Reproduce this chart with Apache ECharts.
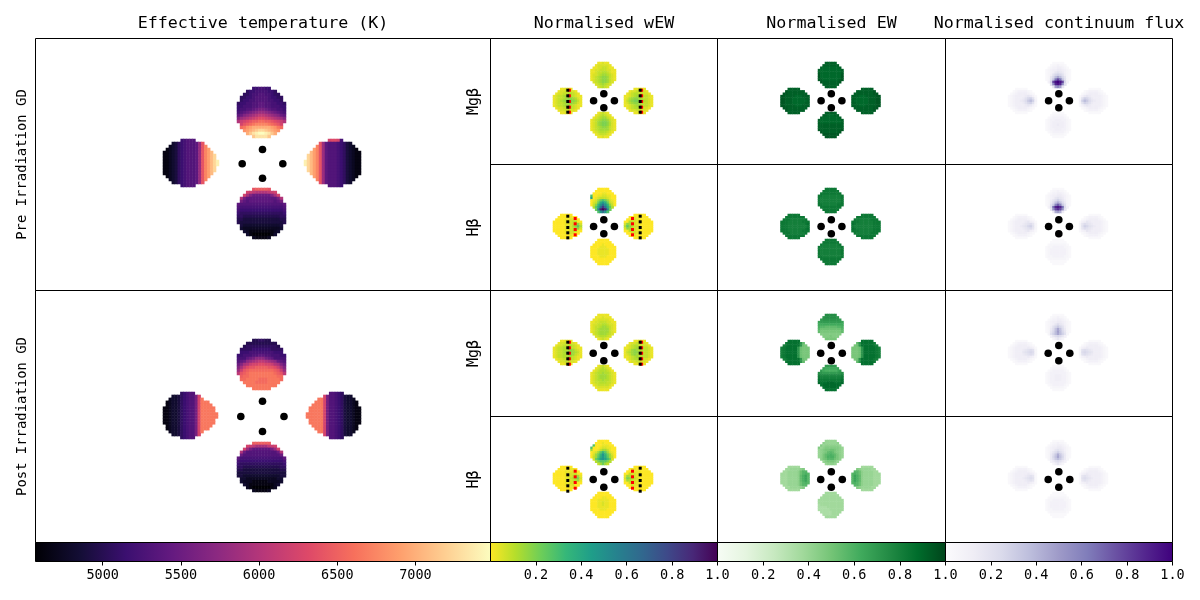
<!DOCTYPE html>
<html><head><meta charset="utf-8">
<style>html,body{margin:0;padding:0;background:#fff}#c{width:1200px;height:600px}</style>
<script src="https://cdn.jsdelivr.net/npm/echarts@6/dist/echarts.min.js"></script>
</head><body><div id="c"></div>
<script>
// Each lobe: rows of base-36 levels (0..z = 0..1 of the colour range), '.' = no data
const tempPreTop=[".....778877.....","...6778888776...","..667889988766..",".66778999987766.",".67788999988776.","6778899aa9988776","7788899aa9988877","78899abccba99887","89abcdeffedcba98","abdefghiihgfedba","dfghijkllkjihgfd","hjklmnnoonnmlkjh",".kmnopqqqqponmk.",".oprsttttttsrpo.","..rstuvwwvutsr..","...tvxyzzyxvt...",".....vxxxxv....."];
const tempPreLeft=["......78999........","...34678999afm.....","..234678999afmq....",".1234678999afmqs...","11234678999afmqsu..","11234678999afmqsuw.","11234678999afmqsuw.","11234678999afmqsuwy","11234678999afmqsuwy","11234678999afmqsuw.","11234678999afmqsuw.","11234678999afmqsu..",".1234678999afmqs...","..234678999afmq....","...34678999afm.....","......78999........"];
const tempPreRight=["........kllk8......",".....mfa99987643...","....qmfa999876432..","...sqmfa9998764321.","..usqmfa99987643211",".wusqmfa99987643211",".wusqmfa99987643211","ywusqmfa99987643211","ywusqmfa99987643211",".wusqmfa99987643211",".wusqmfa99987643211","..usqmfa99987643211","...sqmfa9998764321.","....qmfa999876432..",".....mfa99987643...","........99987......"];
const tempPreBottom=[".....mnnnnm.....","...kjihhhhijk...","..kgdbbbbbbdgk..",".hcaaaaaaaaaach.",".ca9aaaaaaaa9ac.","a99999999999999a","9888888888888889","8777777777777778","7666666666666667","6655555555555566","5544444444444455","5444444444444445",".43333333333334.",".32222222222223.","..321111111123..","...3100000013...",".....211112....."];
const tempPostTop=[".....556655.....","...5555555555...","..566666666665..",".66667777776666.",".77788888888777.","7788899aa9988877","888abceeecba8888","9abefghiihgfeba9","bdghjkkllkkjhgdb","dgjlmmnnnnmmljgd","fjmnoooooooonmjf","imnopppppppponmi",".noopppppppppoo.",".ooppppoooppppo.","..ppppoooopppp..","...pppppppppp...",".....pppppp....."];
const tempPostLeft=["......67899........","...33467899ck......","..233467899ckp.....",".1233467899ckppp...",".1233467899ckpppp..","11233467899ckppppp.","11233467899ckppppp.","11233467899ckpppppp","11233467899ckpppppp","11233467899ckppppp.","11233467899ckppppp.",".1233467899ckpppp..",".1233467899ckppp...","..233467899ckp.....","...33467899ck......","......67899........"];
const tempPostRight=["........99876......","......kc99876433...","....ppkc998764332..","...pppkc9987643321.","..ppppkc9987643321.",".pppppkc99876433211",".pppppkc99876433211","ppppppkc99876433211","ppppppkc99876433211",".pppppkc99876433211",".pppppkc99876433211","..ppppkc9987643321.","...pppkc9987643321.","....ppkc998764332..","......kc99876433...","........99876......"];
const tempPostBottom=[".....nnnnnn.....","...kjiggggijk...","..kfcaaaaaacfk..",".hb9999999999bh.",".b999999999999b.","a88888888888888a","8777777777777778","7666666666666667","6655555555555566","5544444444444455","4444444444444444","4433333333333344",".33222222222233.",".32221111122223.","..321111111123..","...2100000012...",".....211112....."];

const wewMgPreTop=["...11211...","..1222221..",".112233211.","11223332211","11233443211","12234554321","12345665321","12345665321",".234566532.","..2345432..","...23432..."];
const wewMgPreLeft=["...11211....","..12233221..",".1223344321.","123345543211","123345665421","123456776531","123345665421","123345543211",".1223344321.","..12233221..","...11211...."];
const wewMgPreRight=["....11211...","..12233221..",".1234433221.","112345543321","124566543321","135677654321","124566543321","112345543321",".1234433221.","..12233221..","....11211..."];
const wewMgPreBottom=["...12321...","..1234321..",".123455321.","12345665321","12356776421","12356776421","12345665321","12345555321",".123444321.","..1233321..","...11211..."];
const wewHbPreTop=["...00000...","..0000000..",".000011000.","a0011221100","f0123332100","01258a85210","0238dgd8320","036chmhc630",".49emtme94.","..8kwzwk8..","...ahmha..."];
const wewHbPreLeft=["...00000....","..00000100..",".0000112200.","000001123400","000001123562","000001224694","000001123562","000001123400",".0000112200.","..00000100..","...00000...."];
const wewHbPreRight=["....00000...","..00100000..",".0022110000.","004321100000","265321100000","496422100000","265321100000","004321100000",".0022110000.","..00100000..","....00000..."];
const wewHbPreBottom=["...00000...","..0000000..",".000010000.","00001110000","00011111000","00011111000","00011111000","00001110000",".000000000.","..0000000..","...00000..."];
const wewMgPostTop=["...11111...","..1112111..",".112222211.","11223332211","12233443221","12334554321","12345555321","12345555321",".234555432.","..2344432..","...12321..."];
const wewMgPostLeft=["...11211....","..12233221..",".1223344321.","123344543211","123344565321","123345665431","123344565321","123344543211",".1223344321.","..12233221..","...11211...."];
const wewMgPostRight=["....11211...","..12233221..",".1234433221.","112345443321","123565443321","134566543321","123565443321","112345443321",".1234433221.","..12233221..","....11211..."];
const wewMgPostBottom=["...12321...","..1234321..",".123444321.","12344544321","12345554321","12345554321","12344544321","12334443321",".123333321.","..1222221..","...11111..."];
const wewHbPostTop=["...00000...","..0001000..",".a00011100.","a0001221100","50013553100","01259c95210","0258chc8520","0359dgd9530",".28bfhfb82.","..4799974..","...35853..."];
const wewHbPostLeft=["...00000....","..00000110..",".0000111200.","000001122300","000001123451","000001234672","000001123451","000001122300",".0000111200.","..00000110..","...00000...."];
const wewHbPostRight=["....00000...","..01100000..",".0021110000.","003221100000","154321100000","276432100000","154321100000","003221100000",".0021110000.","..01100000..","....00000..."];
const wewHbPostBottom=["...00000...","..0000000..",".000011000.","00011111000","00011211000","00011211000","00011111000","00001110000",".000000000.","..0000000..","...00000..."];

const ewMgPreTop=["...wwwww...","..wwwwwww..",".wvvvvvvvw.","wvvvvvvvvvw","wvvvvvvvvvw","xvvvvvvvvvx","xvvvvvvvvvx","xwvvvvvvvwx",".xwwwwwwwx.","..wwwwwww..","...wwwww..."];
const ewMgPreLeft=["...wwwww....","..xwwwwwww..",".xxwwwwwwww.","xxwwwwvvvwww","xxwwwvvvvvww","xxwwwvvvvvvw","xxwwwvvvvvww","xxwwwwvvvwww",".xxwwwwwwww.","..xwwwwwww..","...wwwww...."];
const ewMgPreRight=["....wwwww...","..wwwwwwwx..",".wwwwwwwwxx.","wwwvvvwwwwxx","wwvvvvvwwwxx","wvvvvvvwwwxx","wwvvvvvwwwxx","wwwvvvwwwwxx",".wwwwwwwwxx.","..wwwwwwwx..","....wwwww..."];
const ewMgPreBottom=["...wwwww...","..wwvvvww..",".wvvvvvvvw.","wvvvvvvvvvw","wvvvvvvvvvw","wwwwwwwwwww","wwwwwwwwwww","xwwwwwwwwwx",".xwwwwwwwx.","..xxxxxxx..","...xxxxx..."];
const ewHbPreTop=["...ttttt...","..ttttttt..",".ttttttttt.","ttsssssssst","tssssssssst","tssssssssst","tssssssssst","ttssssssttt",".ttttttttt.","..ttttttt..","...ttttt..."];
const ewHbPreLeft=["...ttttt....","..tttttttt..",".tttsssssst.","tttssssssttt","tttssssssstu","tttsssssssst","tttssssssstu","tttssssssttt",".tttsssssst.","..tttttttt..","...ttttt...."];
const ewHbPreRight=["....ttttt...","..tttttttt..",".tssssssttt.","tttssssssttt","utsssssssttt","tssssssssttt","utsssssssttt","tttssssssttt",".tssssssttt.","..tttttttt..","....ttttt..."];
const ewHbPreBottom=["...ttttt...","..ttttttt..",".tssssssst.","tssssssssst","tssssssssst","tssssssssst","tssssssssst","ttsssssssst",".ttttttttt.","..ttttttt..","...ttttt..."];
const ewMgPostTop=["...qqqqq...","..pqqqqqp..",".opppppppo.","nooooooooon","mmmmmmmmmmm","lkkjjjjjkkl","kiiiiiiiiik","jhhhhhhhhhj",".ggggggggg.","..ggghggg..","...hhhhh..."];
const ewMgPostLeft=["...uuuuu....","..tuuuuupj..",".stuuuuupih.","stuuuuupihhh","stuuuuupihhh","stuuuuupihhh","stuuuuupihhh","stuuuuupihhh",".stuuuuupih.","..tuuuuupj..","...uuuuu...."];
const ewMgPostRight=["....uuuuu...","..jpuuuuut..",".hipuuuuuts.","hhhipuuuuuts","hhhipuuuuuts","hhhipuuuuuts","hhhipuuuuuts","hhhipuuuuuts",".hipuuuuuts.","..jpuuuuut..","....uuuuu..."];
const ewMgPostBottom=["...ooooo...","..nmmmmmn..",".omlllllmo.","qpooooooopq","srrrrrrrrrs","tssssssssst","utttttttttu","vuuuvvvuuuv",".uvvvvvvvu.","..uvvvvvu..","...uuuuu..."];
const ewHbPostTop=["...eeeee...","..feeeeef..",".geffffffe.","gefggggggfe","efghhiihgfe","efghjkjhgfe","efhjklkjhfe","efhjllljhfe",".fhikkkihf.","..eghhhge..","...efffe..."];
const ewHbPostLeft=["...ddddd....","..ddeeeefg..",".ddeeeefikk.","dddeeeefiklk","dddeeeefjlnk","dddeeeefjlnk","dddeeeefjlnk","dddeeeefiklk",".ddeeeefikk.","..ddeeeefg..","...ddddd...."];
const ewHbPostRight=["....ddddd...","..gfeeeedd..",".kkifeeeedd.","klkifeeeeddd","knljfeeeeddd","knljfeeeeddd","knljfeeeeddd","klkifeeeeddd",".kkifeeeedd.","..gfeeeedd..","....ddddd..."];
const ewHbPostBottom=["...ddddd...","..ddddddd..",".ddddddddd.","ddddddddddd","ddddddddddd","cdddddddddd","ccccddddddd","cccccdddddd",".cccccdddd.","..ccccddd..","...ddddd..."];

const fluxMgPreTop=["...11111...","..1223221..",".123344321.","12344554321","12346765321","12479a97421","1269dgd9621","127cmrmc721",".39rxzxr93.","..7kvxvk7..","...6hkh6..."];
const fluxMgPreLeft=["...11111....","..12333321..",".1234444321.","123444456531","123444579a72","12344568bda3","123444579a72","123444456531",".1234444321.","..12333321..","...11111...."];
const fluxMgPreRight=["....11111...","..12333321..",".1234444321.","135654444321","27a975444321","3adb86544321","27a975444321","135654444321",".1234444321.","..12333321..","....11111..."];
const fluxMgPreBottom=["...11111...","..1222221..",".123333321.","12334443321","12344444321","12344544321","12344444321","12334443321",".123333321.","..1222221..","...11111..."];
const fluxHbPreTop=["...11111...","..1223221..",".123344321.","12344554321","12346765321","12468a86421","1258cfc8521","127bkpkb721",".38nvxvn83.","..6jrurj6..","...5fhf5..."];
const fluxHbPreLeft=["...11111....","..12333321..",".1234444321.","123444456431","123444567862","123445679a72","123444567862","123444456431",".1234444321.","..12333321..","...11111...."];
const fluxHbPreRight=["....11111...","..12333321..",".1234444321.","134654444321","268765444321","27a976544321","268765444321","134654444321",".1234444321.","..12333321..","....11111..."];
const fluxHbPreBottom=["...11111...","..1111111..",".122222221.","12233333221","12333333321","12333333321","12333333321","12233333221",".122222221.","..1111111..","...11111..."];
const fluxMgPostTop=["...11111...","..1223221..",".123344321.","12344554321","12346865321","12479b97421","1258cgc8521","1269dhd9621",".27adgda72.","..3689863..","...24642..."];
const fluxMgPostLeft=["...11111....","..12333321..",".1234444321.","123444445431","123444567872","123444678982","123444567872","123444445431",".1234444321.","..12333321..","...11111...."];
const fluxMgPostRight=["....11111...","..12333321..",".1234444321.","134544444321","278765444321","289876444321","278765444321","134544444321",".1234444321.","..12333321..","....11111..."];
const fluxMgPostBottom=["...11111...","..1222221..",".123333321.","12333333321","12334443321","12334443321","12334443321","12333333321",".123333321.","..1222221..","...11111..."];
const fluxHbPostTop=["...11111...","..1223221..",".123344321.","12344554321","12346765321","12468a86421","1258bfb8521","1259cgc9521",".258bdb852.","..3578753..","...24642..."];
const fluxHbPostLeft=["...11111....","..12333321..",".1234444321.","123444445431","123444456761","123444567871","123444456761","123444445431",".1234444321.","..12333321..","...11111...."];
const fluxHbPostRight=["....11111...","..12333321..",".1234444321.","134544444321","167654444321","178765444321","167654444321","134544444321",".1234444321.","..12333321..","....11111..."];
const fluxHbPostBottom=["...11111...","..1111111..",".122222221.","12233333221","12333333321","12333333321","12333333321","12233333221",".122222221.","..1111111..","...11111..."];

// fiducial dots, in axis units from the panel centre
const dotsTempPre=[[-0.5,-15],[-20.8,-0.7],[19.8,-0.7],[-0.5,13.7]];
const dotsTempPost=[[-0.5,-15.3],[-22.2,0],[21,0],[-0.5,15]];
const dotsMgPre=[[-0.2,-7.7],[-10.4,-0.7],[10.4,-0.7],[-0.2,6.3]];
const dotsHbPre=[[-0.2,-7.7],[-10.4,-1],[10.4,-1],[-0.2,6.3]];
const dotsMgPost=[[-0.2,-8],[-10.8,-0.3],[10.8,-0.3],[-0.2,7.3]];
const dotsHbPost=[[-0.2,-7.7],[-10.8,0],[10.8,0],[-0.2,7.7]];
// dotted slit marks in the wEW panels: x position of each column, y of each dot
const blackXs=[-36.2,36.2], redXsMg=[-34.6,37.6], redXsHb=[-28.8,28.5];
const blackYsMgPre=[-11.3,-5.7,0,5.7,10.7], blackYsHbPre=[-11.3,-5.7,0,5.3,10.3];
const blackYsMgPost=[-11.3,-5.7,-0.3,5.3,10.7], blackYsHbPost=[-11.3,-4.7,1,6.3,11.7];
const redYsHbPre=[-9,-3.7,2,7.3], redYsHbPost=[-8.3,-2.7,3,8.7];

const columnTitles=["Effective temperature (K)","Normalised wEW","Normalised EW","Normalised continuum flux"];
const rowTitles=["Pre Irradiation GD","Post Irradiation GD"];
const lineTitles=["Mgβ","Hβ","Mgβ","Hβ"];
const tempTicks=[5000,5500,6000,6500,7000];
const unitTicks=[0.2,0.4,0.6,0.8,1.0];
const tempRange=[4570,7480];

const magma=["#000004","#140e36","#3b0f70","#641a80","#8c2981","#b73779","#de4968","#f7705c","#fe9f6d","#fecf92","#fcfdbf"];
const viridisR=["#fde725","#b5de2b","#6ece58","#35b779","#1f9e89","#26828e","#31688e","#3e4989","#482878","#440154"];
const greens=["#f7fcf5","#e5f5e0","#c7e9c0","#a1d99b","#74c476","#41ab5d","#238b45","#006d2c","#00441b"];
const purples=["#fcfbfd","#efedf5","#dadaeb","#bcbddc","#9e9ac8","#807dba","#6a51a3","#54278f","#3f007d"];

const MONO='"DejaVu Sans Mono"';
const grids=[],xAxes=[],yAxes=[],series=[];
function addAxes(g,x,y){grids.push(g);xAxes.push(Object.assign({gridIndex:grids.length-1},x));yAxes.push(Object.assign({gridIndex:grids.length-1},y));return grids.length-1;}
const hidden={show:false};
function plainValue(min,max,extra){return Object.assign({type:'value',min,max,axisLine:hidden,axisTick:hidden,axisLabel:hidden,splitLine:hidden},extra||{});}
const seriesByFamily=[[],[],[],[]];
function addLobe(rows,box,fam){
  const nc=Math.max(...rows.map(r=>r.length)),nr=rows.length,data=[];
  const lo=fam===0?tempRange[0]:0, hi=fam===0?tempRange[1]:1;
  rows.forEach((r,j)=>{[...r].forEach((ch,i)=>{if(ch!=='.')data.push([i,j,lo+(hi-lo)*parseInt(ch,36)/35]);});});
  const idx=addAxes({left:box[0],top:box[2],width:box[1]-box[0],height:box[3]-box[2]},
    {type:'category',show:false,data:Array.from({length:nc},(_,i)=>i)},
    {type:'category',show:false,inverse:true,data:Array.from({length:nr},(_,i)=>i)});
  seriesByFamily[fam].push(series.length);
  series.push({type:'heatmap',xAxisIndex:idx,yAxisIndex:idx,data,z:2,silent:true,animation:false,progressive:0});
}
function addPanel(left,top,w,h,xExtra,yExtra){
  return addAxes({left:left+0.5,top:top+0.5,width:w,height:h,show:true,borderColor:'#000',borderWidth:1,backgroundColor:'transparent'},
    plainValue(-w/2,w/2,xExtra),plainValue(-h/2,h/2,Object.assign({inverse:true},yExtra||{})));
}
function addMarks(idx,data,symbol,size,color){
  series.push({type:'scatter',xAxisIndex:idx,yAxisIndex:idx,data,symbol,symbolSize:size,z:symbol==='circle'?6:(color==='#000'?5:4),
    itemStyle:{color,opacity:1},silent:true,animation:false});
}
function cross(xs,ys){const out=[];xs.forEach(x=>ys.forEach(y=>out.push([x,y])));return out;}
const nameStyle=(size)=>({fontFamily:MONO,fontSize:size,color:'#000'});

// Temperature panels
const tempBoxes=[
 {top:38,lobes:[[237,286,87,138],[163,219,139,187],[304,361,139,187],[237,286,188,239]],data:[tempPreTop,tempPreLeft,tempPreRight,tempPreBottom],dots:dotsTempPre},
 {top:290,lobes:[[237,286,339,390],[163,218,392,439],[306,361,392,439],[237,286,442,492]],data:[tempPostTop,tempPostLeft,tempPostRight,tempPostBottom],dots:dotsTempPost}];
tempBoxes.forEach((b,k)=>{
  b.data.forEach((d,i)=>addLobe(d,b.lobes[i],0));
  const idx=addPanel(35,b.top,455,252,
    k===0?{position:'top',name:columnTitles[0],nameLocation:'middle',nameGap:6,nameTextStyle:Object.assign(nameStyle(16.67),{verticalAlign:'bottom'})}:{},
    {name:rowTitles[k],nameLocation:'middle',nameRotate:90,nameGap:6,nameTextStyle:Object.assign(nameStyle(13.9),{verticalAlign:'bottom'})});
  addMarks(idx,b.dots,'circle',7.6,'#000');
});

// Small panels
const colLeft=[490,717,945],colWidth=[227,228,227],colCentre=[603.5,831,1058.5];
const colXBox=[[-13,12.5],[-50.5,-21.5],[20.5,49.5],[-13,12.5]];
const rowTop=[38,164,290,416],rowCentre=[101,227,353,479];
const rowYBox=[
 [[-39,-13],[-13,13],[-13,13],[11,37]],
 [[-39,-14],[-13,12],[-13,12],[12,38]],
 [[-39,-13],[-13,12],[-13,12],[12,38]],
 [[-39,-14],[-13,12],[-13,12],[13,39]]];
const smallData=[
 [[wewMgPreTop,wewMgPreLeft,wewMgPreRight,wewMgPreBottom],[wewHbPreTop,wewHbPreLeft,wewHbPreRight,wewHbPreBottom],[wewMgPostTop,wewMgPostLeft,wewMgPostRight,wewMgPostBottom],[wewHbPostTop,wewHbPostLeft,wewHbPostRight,wewHbPostBottom]],
 [[ewMgPreTop,ewMgPreLeft,ewMgPreRight,ewMgPreBottom],[ewHbPreTop,ewHbPreLeft,ewHbPreRight,ewHbPreBottom],[ewMgPostTop,ewMgPostLeft,ewMgPostRight,ewMgPostBottom],[ewHbPostTop,ewHbPostLeft,ewHbPostRight,ewHbPostBottom]],
 [[fluxMgPreTop,fluxMgPreLeft,fluxMgPreRight,fluxMgPreBottom],[fluxHbPreTop,fluxHbPreLeft,fluxHbPreRight,fluxHbPreBottom],[fluxMgPostTop,fluxMgPostLeft,fluxMgPostRight,fluxMgPostBottom],[fluxHbPostTop,fluxHbPostLeft,fluxHbPostRight,fluxHbPostBottom]]];
const rowDots=[dotsMgPre,dotsHbPre,dotsMgPost,dotsHbPost];
const blackYs=[blackYsMgPre,blackYsHbPre,blackYsMgPost,blackYsHbPost];
const redMarks=[cross(redXsMg,blackYsMgPre),cross(redXsHb,redYsHbPre),cross(redXsMg,blackYsMgPost),cross(redXsHb,redYsHbPost)];
smallData.forEach((col,c)=>{
  col.forEach((lobes,r)=>{
    lobes.forEach((d,i)=>{
      const xb=colXBox[i],yb=rowYBox[r][i];
      addLobe(d,[colCentre[c]+xb[0],colCentre[c]+xb[1],rowCentre[r]+yb[0],rowCentre[r]+yb[1]],c+1);
    });
    const idx=addPanel(colLeft[c],rowTop[r],colWidth[c],126,
      r===0?{position:'top',name:columnTitles[c+1],nameLocation:'middle',nameGap:6,nameTextStyle:Object.assign(nameStyle(16.67),{verticalAlign:'bottom'})}:{},
      c===0?{name:lineTitles[r],nameLocation:'middle',nameRotate:90,nameGap:9,nameTextStyle:Object.assign(nameStyle(15),{verticalAlign:'bottom'})}:{});
    addMarks(idx,rowDots[r],'circle',7.6,'#000');
    if(c===0){
      addMarks(idx,redMarks[r],'rect',3,'#f00');
      addMarks(idx,cross(blackXs,blackYs[r]),'rect',3,'#000');
    }
  });
});

// Colour bars
function gradient(colors){return new echarts.graphic.LinearGradient(0,0,1,0,colors.map((color,i)=>({offset:i/(colors.length-1),color})));}
function addBar(left,w,colors,range,ticks,fmt){
  addAxes({left:left+0.5,top:542.5,width:w,height:19,show:true,borderColor:'#000',borderWidth:1,backgroundColor:gradient(colors)},
    {type:'value',min:range[0],max:range[1],position:'bottom',axisLine:hidden,splitLine:hidden,
     axisTick:{show:true,length:4,inside:false,lineStyle:{color:'#000',width:1},customValues:ticks},
     axisLabel:{show:true,customValues:ticks,margin:7,fontFamily:MONO,fontSize:13.5,color:'#000',hideOverlap:false,showMinLabel:true,showMaxLabel:true,formatter:fmt}},
    {type:'value',min:0,max:1,show:false});
}
const oneDecimal=v=>Number(v).toFixed(1);
addBar(35,455,magma,tempRange,tempTicks,v=>String(v));
addBar(490,227,viridisR,[0,1],unitTicks,oneDecimal);
addBar(717,228,greens,[0,1],unitTicks,oneDecimal);
addBar(945,227,purples,[0,1],unitTicks,oneDecimal);

const families=[[tempRange[0],tempRange[1],magma],[0,1,viridisR],[0,1,greens],[0,1,purples]];
const visualMap=families.map((f,i)=>({type:'continuous',show:false,min:f[0],max:f[1],dimension:2,seriesIndex:seriesByFamily[i],inRange:{color:f[2]}}));

const chart=echarts.init(document.getElementById('c'),null,{renderer:'canvas'});
chart.setOption({animation:false,backgroundColor:'#fff',grid:grids,xAxis:xAxes,yAxis:yAxes,visualMap,series,tooltip:{show:false}});
</script></body></html>
